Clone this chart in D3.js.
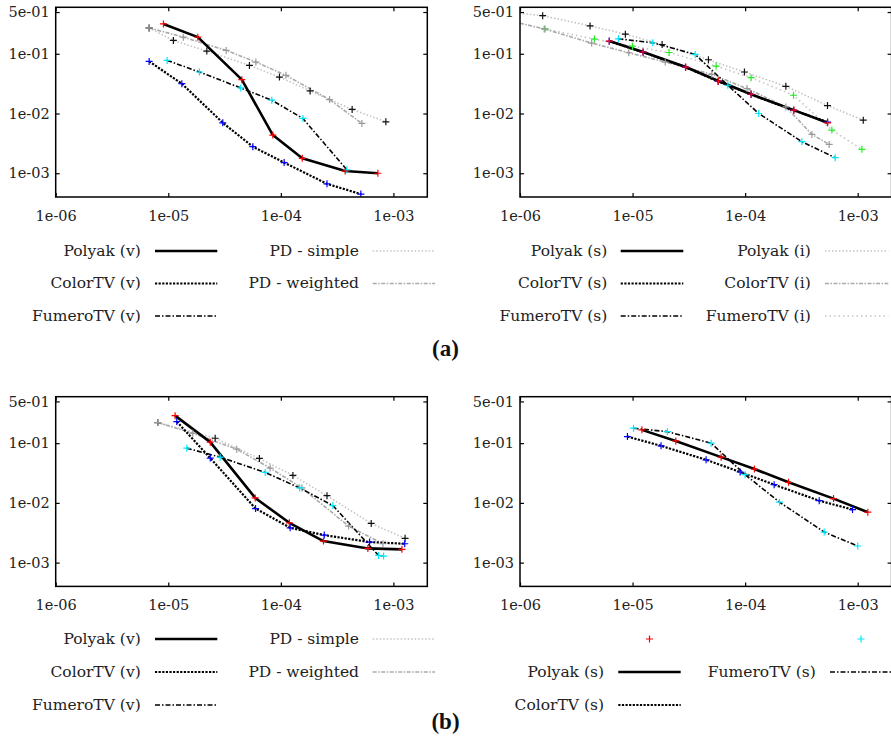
<!DOCTYPE html>
<html>
<head>
<meta charset="utf-8">
<script src="https://cdn.jsdelivr.net/npm/d3@7"></script>
<style>
    body { margin: 0; background: #fff; }
    svg { display: block; }
    .tick text { font-family: "DejaVu Serif", serif; font-size: 14.5px; fill: #222; }
    .legend text { font-family: "DejaVu Serif", serif; font-size: 15.5px; fill: #222; }
    .caption { font-family: "Liberation Serif", serif; font-weight: bold; font-size: 23px; fill: #111; }
</style>
</head>
<body>
<svg id="chart" width="891" height="742"></svg>
<script>
    const xTicks = [1e-6, 1e-5, 1e-4, 1e-3];
    const xTickLabels = ['1e-06', '1e-05', '1e-04', '1e-03'];
    const yTicks = [5e-1, 1e-1, 1e-2, 1e-3];
    const yTickLabels = ['5e-01', '1e-01', '1e-02', '1e-03'];
    const xDomain = [1e-6, 2e-3];
    const yDomain = [4e-4, 0.6];

    // (a) left
    const aPolyakV = [[9.06e-6, 0.316], [1.83e-5, 0.190], [4.50e-5, 0.0369], [8.49e-5, 0.00435],
        [1.55e-4, 0.00178], [3.73e-4, 0.00109], [7.28e-4, 0.00100]];
    const aColorV = [[6.76e-6, 0.0745], [1.32e-5, 0.0316], [3.05e-5, 0.00699], [5.64e-5, 0.00278],
        [1.07e-4, 0.00151], [2.57e-4, 0.000664], [5.14e-4, 0.000447]];
    const aFumeroV = [[9.77e-6, 0.0774], [1.89e-5, 0.0495], [4.40e-5, 0.0268], [8.31e-5, 0.0167],
        [1.57e-4, 0.00826], [3.86e-4, 0.00114]];
    const aPdSimple = [[6.76e-6, 0.271], [1.11e-5, 0.167], [2.20e-5, 0.111], [5.26e-5, 0.0639],
        [9.72e-5, 0.0408], [1.82e-4, 0.0239], [4.30e-4, 0.0117], [8.57e-4, 0.00726]];
    const aPdWeighted = [[6.76e-6, 0.271], [1.36e-5, 0.190], [3.27e-5, 0.114], [6.00e-5, 0.0727],
        [1.11e-4, 0.0435], [2.71e-4, 0.0171], [5.25e-4, 0.00681]];

    // (a) right
    const aPolyakS = [[6.22e-6, 0.163], [1.24e-5, 0.107], [2.97e-5, 0.0600], [5.79e-5, 0.0350],
        [1.13e-4, 0.0210], [2.71e-4, 0.0114], [5.40e-4, 0.00699]];
    const aColorS = [[6.20e-6, 0.162], [1.24e-5, 0.106], [2.95e-5, 0.0595], [5.75e-5, 0.0345],
        [1.13e-4, 0.0208], [2.70e-4, 0.0113], [5.40e-4, 0.00720]];
    const aFumeroS = [[7.48e-6, 0.178], [1.51e-5, 0.153], [3.60e-5, 0.0974], [7.02e-5, 0.0297],
        [1.32e-4, 0.0100], [3.19e-4, 0.00337], [6.31e-4, 0.00182]];
    const aPolyakI = [[6.0e-7, 0.526], [1.59e-6, 0.435], [4.19e-6, 0.293], [8.63e-6, 0.213],
        [1.83e-5, 0.143], [4.72e-5, 0.0794], [9.86e-5, 0.0495], [2.30e-4, 0.0285],
        [5.39e-4, 0.0136], [1.12e-3, 0.00774]];
    const aColorI = [[6.0e-7, 0.406], [1.64e-6, 0.261], [4.33e-6, 0.151], [9.25e-6, 0.104],
        [1.95e-5, 0.0727], [5.06e-5, 0.0453], [1.04e-4, 0.0261], [2.30e-4, 0.0129],
        [3.92e-4, 0.00447], [5.58e-4, 0.00304]];
    const aFumeroI = [[1.67e-6, 0.261], [4.58e-6, 0.176], [9.97e-6, 0.134], [2.11e-5, 0.105],
        [5.52e-5, 0.0623], [1.13e-4, 0.0398], [2.69e-4, 0.0202], [5.89e-4, 0.00528],
        [1.09e-3, 0.00251]];

    // (b) left
    const bPolyakV = [[1.15e-5, 0.289], [2.36e-5, 0.104], [5.92e-5, 0.0121], [1.19e-4, 0.00464],
        [2.39e-4, 0.00230], [5.93e-4, 0.00173], [1.19e-3, 0.00167]];
    const bColorV = [[1.19e-5, 0.230], [2.36e-5, 0.0562], [5.96e-5, 0.00805], [1.21e-4, 0.00383],
        [2.43e-4, 0.00289], [6.14e-4, 0.00221], [1.26e-3, 0.00207]];
    const bFumeroV = [[1.46e-5, 0.0826], [2.89e-5, 0.0584], [7.26e-5, 0.0324], [1.47e-4, 0.0178],
        [2.90e-4, 0.00903], [7.38e-4, 0.00132], [8.18e-4, 0.00129]];
    const bPdSimple = [[8.07e-6, 0.221], [2.61e-5, 0.121], [6.45e-5, 0.0555], [1.28e-4, 0.0289],
        [2.57e-4, 0.0132], [6.35e-4, 0.00453], [1.27e-3, 0.00255]];
    const bPdWeighted = [[8.07e-6, 0.221], [1.65e-5, 0.147], [4.06e-5, 0.0794], [8.03e-5, 0.0383],
        [1.54e-4, 0.0178], [4.00e-4, 0.00409], [8.07e-4, 0.00207]];

    // (b) right
    const bPolyakS = [[1.21e-5, 0.167], [2.42e-5, 0.109], [6.12e-5, 0.0584], [1.21e-4, 0.0369],
        [2.43e-4, 0.0221], [6.10e-4, 0.0118], [1.23e-3, 0.00699]];
    const bColorS = [[9.0e-6, 0.129], [1.79e-5, 0.0903], [4.50e-5, 0.0527], [9.03e-5, 0.0329],
        [1.81e-4, 0.0202], [4.55e-4, 0.0109], [8.99e-4, 0.00774]];
    const bFumeroS = [[1.02e-5, 0.178], [2.04e-5, 0.156], [4.99e-5, 0.100], [1.00e-4, 0.0297],
        [2.02e-4, 0.0103], [5.04e-4, 0.00325], [1.00e-3, 0.00190]];

    const lineStyles = {
        solid: {stroke: '#000', width: 2.6, dash: null},
        dotted: {stroke: '#000', width: 2.2, dash: '2.2,1.4'},
        dashdot: {stroke: '#000', width: 1.6, dash: '5,2,1.5,2'},
        light: {stroke: '#c4c4c4', width: 1.6, dash: '1.5,2'},
        grayDashDot: {stroke: '#aaaaaa', width: 1.6, dash: '4,1.5,1.5,1.5'},
        lightWide: {stroke: '#c4c4c4', width: 1.6, dash: '1.5,3'}
    };
    const pointColors = {
        red: '#ff0000', blue: '#0000ff', cyan: '#00e8ff',
        black: '#111', gray: '#9a9a9a', green: '#22ee22'
    };

    const panels = [
        {
            left: 55.7, top: 7.3,
            series: [
                {data: aPdSimple, line: 'light', pt: 'black'},
                {data: aPdWeighted, line: 'grayDashDot', pt: 'gray'},
                {data: aFumeroV, line: 'dashdot', pt: 'cyan'},
                {data: aColorV, line: 'dotted', pt: 'blue'},
                {data: aPolyakV, line: 'solid', pt: 'red'}
            ],
            legend: {
                rows: [251, 283.5, 316],
                cols: [{text: 140.7, s0: 155, s1: 217.3}, {text: 359, s0: 372.7, s1: 435}],
                entries: [
                    [{label: 'Polyak (v)', line: 'solid'}, {label: 'ColorTV (v)', line: 'dotted'},
                        {label: 'FumeroTV (v)', line: 'dashdot'}],
                    [{label: 'PD - simple', line: 'light'}, {label: 'PD - weighted', line: 'grayDashDot'}]
                ]
            }
        },
        {
            left: 520, top: 7.3,
            series: [
                {data: aPolyakI, line: 'light', pt: 'black'},
                {data: aFumeroI, line: 'lightWide', pt: 'green'},
                {data: aColorI, line: 'grayDashDot', pt: 'gray'},
                {data: aFumeroS, line: 'dashdot', pt: 'cyan'},
                {data: aColorS, line: 'dotted', pt: 'blue'},
                {data: aPolyakS, line: 'solid', pt: 'red'}
            ],
            legend: {
                rows: [251, 283.5, 316],
                cols: [{text: 607.3, s0: 620.7, s1: 683.3}, {text: 810.7, s0: 825, s1: 888.3}],
                entries: [
                    [{label: 'Polyak (s)', line: 'solid'}, {label: 'ColorTV (s)', line: 'dotted'},
                        {label: 'FumeroTV (s)', line: 'dashdot'}],
                    [{label: 'Polyak (i)', line: 'light'}, {label: 'ColorTV (i)', line: 'grayDashDot'},
                        {label: 'FumeroTV (i)', line: 'lightWide'}]
                ]
            }
        },
        {
            left: 55.7, top: 396.7,
            series: [
                {data: bPdSimple, line: 'light', pt: 'black'},
                {data: bPdWeighted, line: 'grayDashDot', pt: 'gray'},
                {data: bFumeroV, line: 'dashdot', pt: 'cyan'},
                {data: bColorV, line: 'dotted', pt: 'blue'},
                {data: bPolyakV, line: 'solid', pt: 'red'}
            ],
            legend: {
                rows: [639, 672, 705],
                cols: [{text: 140.7, s0: 155, s1: 217.3}, {text: 359, s0: 372.7, s1: 435}],
                entries: [
                    [{label: 'Polyak (v)', line: 'solid'}, {label: 'ColorTV (v)', line: 'dotted'},
                        {label: 'FumeroTV (v)', line: 'dashdot'}],
                    [{label: 'PD - simple', line: 'light'}, {label: 'PD - weighted', line: 'grayDashDot'}]
                ]
            }
        },
        {
            left: 520, top: 396.7,
            series: [
                {data: bFumeroS, line: 'dashdot', pt: 'cyan'},
                {data: bColorS, line: 'dotted', pt: 'blue'},
                {data: bPolyakS, line: 'solid', pt: 'red'}
            ],
            legend: {
                rows: [639, 672, 705],
                cols: [{text: 604, s0: 618.3, s1: 680.7}, {text: 815.7, s0: 830, s1: 892}],
                entries: [
                    [{label: '', pt: 'red'}, {label: 'Polyak (s)', line: 'solid'},
                        {label: 'ColorTV (s)', line: 'dotted'}],
                    [{label: '', pt: 'cyan'}, {label: 'FumeroTV (s)', line: 'dashdot'}]
                ]
            }
        }
    ];

    const width = 371.6, height = 189.7;
    const svg = d3.select('#chart');

    function styleLine(sel, key) {
        const s = lineStyles[key];
        sel.attr('fill', 'none')
            .attr('stroke', s.stroke)
            .attr('stroke-width', s.width)
            .attr('stroke-dasharray', s.dash)
            .attr('stroke-linejoin', 'round');
    }

    function drawPlus(g, cx, cy, color) {
        const r = 3.5;
        g.append('path')
            .attr('d', 'M' + (cx - r) + ',' + cy + 'H' + (cx + r) + 'M' + cx + ',' + (cy - r) + 'V' + (cy + r))
            .attr('stroke', pointColors[color])
            .attr('stroke-width', 1.2)
            .attr('fill', 'none');
    }

    panels.forEach((p, idx) => {
        const x = d3.scaleLog().domain(xDomain).range([0, width]);
        const y = d3.scaleLog().domain(yDomain).range([height, 0]);

        const g = svg.append('g')
            .attr('transform', 'translate(' + p.left + ',' + p.top + ')');

        g.append('clipPath').attr('id', 'clip' + idx)
            .append('rect').attr('width', width).attr('height', height);

        const plot = g.append('g').attr('clip-path', 'url(#clip' + idx + ')');

        const valueLine = d3.line()
            .x(d => x(d[0]))
            .y(d => y(d[1]));

        p.series.forEach(s => {
            plot.append('path').datum(s.data).attr('d', valueLine).call(styleLine, s.line);
        });
        p.series.forEach(s => {
            s.data.forEach(d => drawPlus(plot, x(d[0]), y(d[1]), s.pt));
        });

        const xAxis = d3.axisBottom(x).tickValues(xTicks)
            .tickFormat((d, i) => xTickLabels[i])
            .tickSizeInner(-4).tickSizeOuter(0).tickPadding(13.5);
        const yAxis = d3.axisLeft(y).tickValues(yTicks)
            .tickFormat((d, i) => yTickLabels[i])
            .tickSizeInner(-4).tickSizeOuter(0).tickPadding(6);

        const gx = g.append('g').attr('transform', 'translate(0,' + height + ')').call(xAxis);
        const gy = g.append('g').call(yAxis);
        const gxTop = g.append('g').call(d3.axisTop(x).tickValues(xTicks).tickFormat('')
            .tickSizeInner(-4).tickSizeOuter(0));
        const gyRight = g.append('g').attr('transform', 'translate(' + width + ',0)')
            .call(d3.axisRight(y).tickValues(yTicks).tickFormat('').tickSizeInner(-4).tickSizeOuter(0));

        [gx, gy, gxTop, gyRight].forEach(a => {
            a.select('.domain').remove();
            a.attr('font-family', null).attr('font-size', null);
            a.selectAll('.tick line').attr('stroke', '#000').attr('stroke-width', 1.2);
        });

        g.append('rect')
            .attr('width', width).attr('height', height)
            .attr('fill', 'none').attr('stroke', '#000').attr('stroke-width', 1.5);

        // key
        const lg = svg.append('g').attr('class', 'legend');
        p.legend.entries.forEach((col, ci) => {
            const c = p.legend.cols[ci];
            col.forEach((e, ri) => {
                const ry = p.legend.rows[ri];
                if (e.label) {
                    lg.append('text')
                        .attr('x', c.text).attr('y', ry)
                        .attr('dy', '0.32em')
                        .attr('text-anchor', 'end')
                        .text(e.label);
                }
                if (e.line) {
                    lg.append('path')
                        .attr('d', 'M' + c.s0 + ',' + ry + 'H' + c.s1)
                        .call(styleLine, e.line);
                }
                if (e.pt) {
                    drawPlus(lg, (c.s0 + c.s1) / 2, ry, e.pt);
                }
            });
        });
    });

    svg.append('text').attr('class', 'caption')
        .attr('x', 445.5).attr('y', 356).attr('text-anchor', 'middle').text('(a)');
    svg.append('text').attr('class', 'caption')
        .attr('x', 445.5).attr('y', 729).attr('text-anchor', 'middle').text('(b)');
</script>
</body>
</html>
